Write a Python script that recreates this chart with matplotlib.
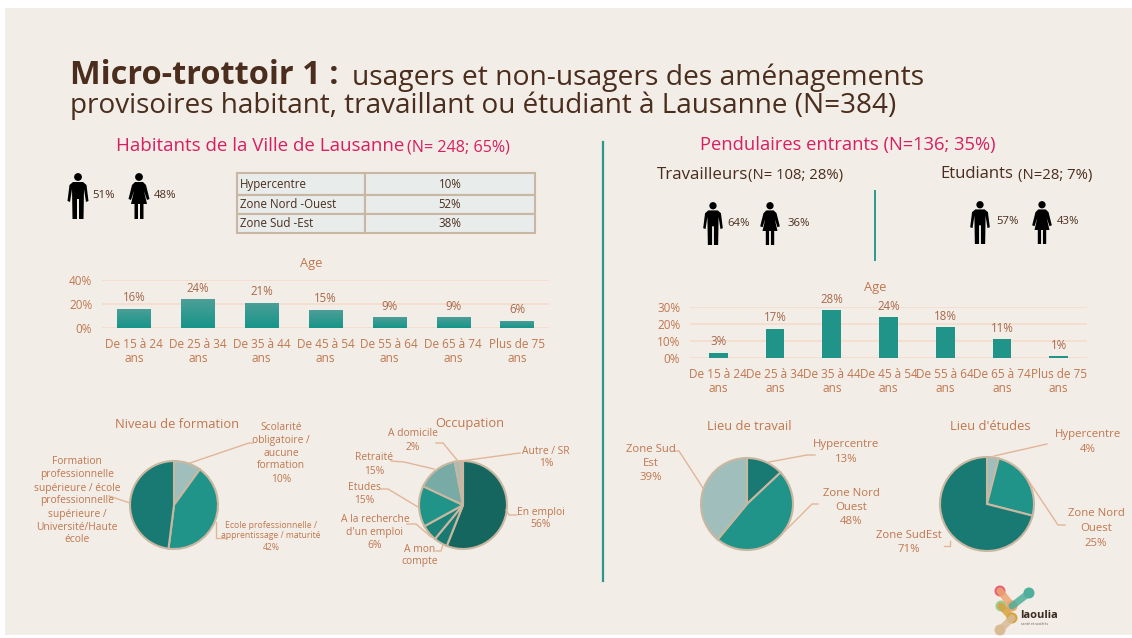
import numpy as np
import matplotlib.pyplot as plt
from matplotlib.patches import Rectangle, Circle, Polygon
from matplotlib.colors import LinearSegmentedColormap

plt.rcParams['font.family'] = ['Open Sans', 'DejaVu Sans']

W, H = 1132, 638
BG = '#f2ede7'
BROWN = '#4a2d1c'
PINK = '#d81f63'
ORANGE = '#c0774f'
LEADER = '#e3b598'
TEAL = '#21948a'
EDGE = '#c9b7a1'
GRID = '#f6dccb'

age_labels_hab = ['De 15 à 24\nans', 'De 25 à 34\nans', 'De 35 à 44\nans', 'De 45 à 54\nans',
                  'De 55 à 64\nans', 'De 65 à 74\nans', 'Plus de 75\nans']
age_values_hab = [16, 24, 21, 15, 9, 9, 6]
age_values_pend = [3, 17, 28, 24, 18, 11, 1]

zones = ['Hypercentre', 'Zone Nord -Ouest', 'Zone Sud -Est']
zones_values = ['10%', '52%', '38%']

formation_values = [10, 42, 48]
occupation_values = [56, 5, 6, 15, 15, 2, 1]
travail_values = [13, 48, 39]
etudes_values = [4, 25, 71]


def px_axes(x0, y0, x1, y1):
    # axes placed with pixel coordinates, y from the top
    return fig.add_axes([x0 / W, 1 - y1 / H, (x1 - x0) / W, (y1 - y0) / H])


def man(cx, top, h):
    s = h / 46
    over.add_patch(Circle((cx, top + 4 * s), 3.9 * s, color='black', lw=0))
    pts = [(-5, 9), (5, 9), (8.5, 12), (10.5, 28), (8, 29), (6, 16), (5.5, 46), (1, 46), (1, 26),
           (-1, 26), (-1, 46), (-5.5, 46), (-6, 16), (-8, 29), (-10.5, 28), (-8.5, 12)]
    over.add_patch(Polygon([(cx + a * s, top + b * s) for a, b in pts], color='black', lw=0))


def woman(cx, top, h):
    s = h / 46
    over.add_patch(Circle((cx, top + 4 * s), 3.9 * s, color='black', lw=0))
    pts = [(-4, 9), (4, 9), (7, 12), (10.5, 26), (8, 27), (5, 18), (8, 31), (4.5, 31), (4.5, 46),
           (1, 46), (1, 31), (-1, 31), (-1, 46), (-4.5, 46), (-4.5, 31), (-8, 31), (-5, 18),
           (-8, 27), (-10.5, 26), (-7, 12)]
    over.add_patch(Polygon([(cx + a * s, top + b * s) for a, b in pts], color='black', lw=0))


def bars(ax, labels, values, ymax, yticks, width, gradient=False):
    x = np.arange(len(values))
    rects = ax.bar(x, values, width=width, color=TEAL, zorder=3)
    if gradient:
        cmap = LinearSegmentedColormap.from_list('g', ['#179589', '#4c9f98'])
        for r in rects:
            im = ax.imshow(np.linspace(0, 1, 32).reshape(-1, 1), cmap=cmap, origin='lower', aspect='auto',
                           extent=[r.get_x(), r.get_x() + r.get_width(), 0, r.get_height()], zorder=3)
            im.set_clip_path(r)
    for i, v in enumerate(values):
        ax.annotate(f'{v}%', (x[i], v), xytext=(0, 8), textcoords='offset points', ha='center', va='center',
                    fontsize=8.3, color='#a8694a', zorder=5)
    ax.set_xlim(-0.5, len(values) - 0.5)
    ax.set_ylim(0, ymax)
    ax.set_yticks(yticks)
    ax.set_yticklabels([f'{t}%' for t in yticks])
    ax.set_xticks(x)
    ax.set_xticklabels(labels, linespacing=1.15)
    ax.tick_params(length=0, labelsize=8.5, labelcolor=ORANGE, pad=7)
    ax.tick_params(axis='y', pad=7)
    ax.grid(axis='y', color=GRID, lw=1.2, zorder=1)
    ax.set_axisbelow(True)
    ax.patch.set_visible(False)
    for s in ax.spines.values():
        s.set_visible(False)


def pie(cx, cy, r, values, colors):
    ax = px_axes(cx - r, cy - r, cx + r, cy + r)
    ax.pie(values, colors=colors, startangle=90, counterclock=False,
           wedgeprops=dict(edgecolor=EDGE, linewidth=1.5))
    ax.set_xlim(-1, 1)
    ax.set_ylim(-1, 1)
    for p in ax.patches:
        p.set_clip_on(False)


fig = plt.figure(figsize=(W / 100, H / 100), dpi=100, facecolor='white')
fig.add_artist(Rectangle((5 / W, 1 - 635 / H), 1127 / W, 627 / H, transform=fig.transFigure, color=BG, lw=0, zorder=-1))

# age bars
ax1 = px_axes(102, 280, 549, 328)
bars(ax1, age_labels_hab, age_values_hab, 40, [0, 20, 40], 0.52, gradient=True)
ax2 = px_axes(690, 307, 1087, 358)
bars(ax2, age_labels_hab, age_values_pend, 30, [0, 10, 20, 30], 0.33)

# table
ax3 = px_axes(237, 173, 535, 233)
ax3.axis('off')
cells = [[a, b] for a, b in zip(zones, zones_values)]
tab = ax3.table(cellText=cells, colWidths=[128 / 298, 170 / 298], bbox=[0, 0, 1, 1])
tab.auto_set_font_size(False)
tab.set_fontsize(8.3)
for (row, col), c in tab.get_celld().items():
    c.set_height([22, 19, 19][row] / 60)
    c.set_facecolor('#e8eceb')
    c.set_edgecolor(EDGE)
    c.set_linewidth(1.5)
    c.PAD = 0.02
    c.set_text_props(color=BROWN, ha='left' if col == 0 else 'center')

# pies
pie(174, 505, 44, formation_values, ['#a0bfbc', TEAL, '#187a73'])
pie(463, 505, 44, occupation_values, ['#15665f', '#187a73', '#1b8279', TEAL, '#78aba5', '#a0bfbc', '#c3b8a6'])
pie(747, 504, 46, travail_values, ['#187a73', TEAL, '#a0bfbc'])
pie(987, 504, 47, etudes_values, ['#a0bfbc', TEAL, '#187a73'])

# everything placed by pixel goes on an overlay
over = fig.add_axes([0, 0, 1, 1], zorder=10)
over.set_xlim(0, W)
over.set_ylim(H, 0)
over.axis('off')

over.text(70, 76, 'Micro-trottoir 1 :', fontsize=23.4, fontweight='bold', color=BROWN, va='center')
over.text(352, 78, 'usagers et non-usagers des aménagements', fontsize=20.3, color=BROWN, va='center')
over.text(70, 106, 'provisoires habitant, travaillant ou étudiant à Lausanne (N=384)', fontsize=20.1, color=BROWN, va='center')

over.text(116, 146, 'Habitants de la Ville de Lausanne', fontsize=13.5, color=PINK, va='center')
over.text(407, 147, '(N= 248; 65%)', fontsize=11.6, color=PINK, va='center')
over.text(700, 145, 'Pendulaires entrants (N=136; 35%)', fontsize=13.25, color=PINK, va='center')
over.text(657, 175, 'Travailleurs', fontsize=12.2, color=BROWN, va='center')
over.text(748, 176, '(N= 108; 28%)', fontsize=10.7, color=BROWN, va='center')
over.text(940, 174, 'Etudiants', fontsize=12, color=BROWN, va='center')
over.text(1018, 175, '(N=28; 7%)', fontsize=10.7, color=BROWN, va='center')

over.plot([603, 603], [142, 581], color='#2a9a8d', lw=1.6)
over.plot([875, 875], [191, 260], color='#2a9a8d', lw=1.4)

man(78, 173, 46)
woman(139, 173, 46)
man(713, 202, 43)
woman(770, 202, 43)
man(980, 201, 43)
woman(1042, 201, 43)
for x, y, t in [(92, 196, '51%'), (154, 196, '48%'), (727, 223, '64%'), (787, 223, '36%'),
                (996, 222, '57%'), (1057, 222, '43%')]:
    over.text(x, y, t, fontsize=8.2, color=BROWN, va='center')

for x, y, t in [(311, 264, 'Age'), (875, 287, 'Age'), (177, 425, 'Niveau de formation'), (470, 424, 'Occupation'),
                (749, 426, 'Lieu de travail'), (990, 426, "Lieu d'études")]:
    over.text(x, y, t, fontsize=9.3, color=ORANGE, ha='center', va='center')

labels = [
    (281, 427, 13, 'Scolarité\nobligatoire /\naucune\nformation\n10%', 7.4),
    (77, 462, 13, 'Formation\nprofessionnelle\nsupérieure / école\nprofessionnelle\nsupérieure /\nUniversité/Haute\nécole', 7.4),
    (271, 525, 11, 'Ecole professionnelle /\napprentissage / maturité\n42%', 6.2),
    (413, 434, 13, 'A domicile\n2%', 7.4),
    (546, 451, 12.5, 'Autre / SR\n1%', 7.4),
    (374, 458, 13, 'Retraité\n15%', 7.4),
    (364, 488, 12.5, 'Etudes\n15%', 7.4),
    (375, 520, 13, "A la recherche\nd'un emploi\n6%", 7.4),
    (420, 549, 12.5, 'A mon\ncompte', 7.4),
    (541, 512, 12.5, 'En emploi\n56%', 7.4),
    (846, 445, 14, 'Hypercentre\n13%', 8.2),
    (851, 493, 14.5, 'Zone Nord\nOuest\n48%', 8.2),
    (651, 450, 14, 'Zone Sud\nEst\n39%', 8.2),
    (1088, 435, 14.5, 'Hypercentre\n4%', 8.2),
    (1096, 514, 14.5, 'Zone Nord\nOuest\n25%', 8.2),
    (909, 535, 15, 'Zone SudEst\n71%', 8.2),
]
for x, y, step, t, size in labels:
    for i, line in enumerate(t.split('\n')):
        over.text(x, y + i * step, line, fontsize=size, color=ORANGE, ha='center', va='center')

leaders = [
    [(190, 463), (249, 443), (253, 443)],
    [(130, 503), (109, 496)],
    [(216, 522), (216, 538), (226, 538)],
    [(436, 443), (443, 443), (457, 460)],
    [(461, 461), (520, 453)],
    [(391, 461), (404, 462), (434, 469)],
    [(381, 489), (388, 489), (418, 507)],
    [(407, 524), (416, 524), (431, 537)],
    [(436, 551), (441, 551), (443, 545)],
    [(506, 510), (509, 515), (517, 515)],
    [(769, 462), (807, 455), (815, 455)],
    [(785, 531), (812, 504), (818, 504)],
    [(703, 488), (679, 451), (674, 451)],
    [(994, 456), (1047, 444)],
    [(1028, 480), (1058, 525), (1065, 525)],
    [(950, 541), (950, 546), (944, 546)],
]
for pts in leaders:
    xs, ys = zip(*pts)
    over.plot(xs, ys, color=LEADER, lw=1.0, zorder=1)

# logo
for (a, b), (d, e), c in [((1000, 591), (1012, 606), '#eba66f'), ((1029, 593), (1012, 606), '#4fae9c'),
                          ((1001, 606), (1012, 618), '#d8a23e'), ((1012, 618), (1000, 630), '#d9bb96')]:
    over.plot([a, d], [b, e], color=c, lw=5, alpha=0.85, solid_capstyle='round')
blobs = [(1000, 591, '#e8607a'), (1029, 593, '#4fae9c'), (1001, 606, '#9cce93'), (1012, 606, '#eba66f'),
         (1012, 618, '#d8a23e'), (1000, 630, '#d9bb96')]
for a, b, c in blobs:
    over.add_patch(Circle((a, b), 5.5, color=c, lw=0))
over.text(1020, 616, 'laoulia', fontsize=8, fontweight='bold', color='#3b2a20', va='center')
over.text(1021, 624, 'santé et sociétés', fontsize=2.5, color='#6b5a50', va='center')

fig.savefig('out.png', dpi=100)
